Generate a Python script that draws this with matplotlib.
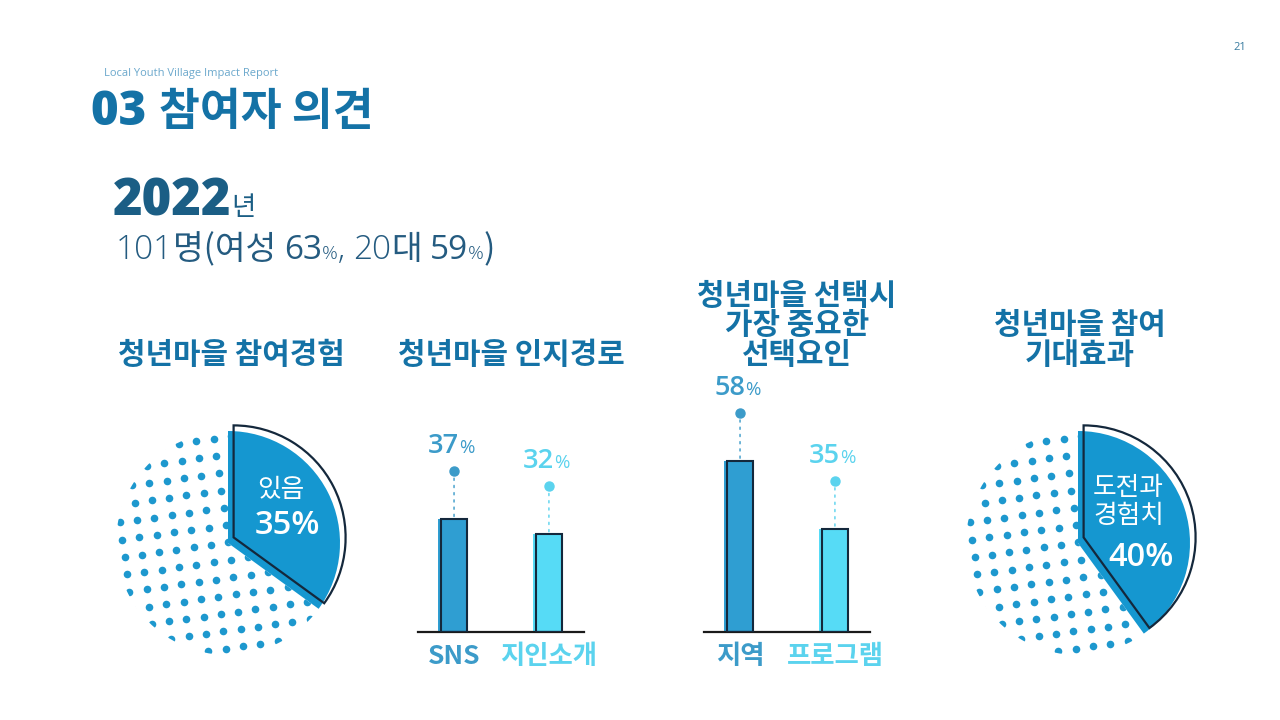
import numpy as np
import matplotlib
matplotlib.use("Agg")
import matplotlib.pyplot as plt
from matplotlib.transforms import offset_copy

plt.rcParams['font.family'] = ['Noto Sans CJK KR', 'DejaVu Sans']

# data
pie1_label = "있음"
pie1_values = [35, 65]
pie2_label = "도전과\n경험치"
pie2_values = [40, 60]

aware_cats = ["SNS", "지인소개"]
aware_vals = [37, 32]
factor_cats = ["지역", "프로그램"]
factor_vals = [58, 35]

titles = ["청년마을 참여경험", "청년마을 인지경로", "청년마을 선택시\n가장 중요한\n선택요인", "청년마을 참여\n기대효과"]

title_blue = '#1472A6'
year_blue = '#1B5E85'
pie_fill = '#1597D0'
dot_col = '#1D98CE'
outline = '#14283C'
bar_cols = ['#2F9ED2', '#56DBF6']
lab_cols = ['#3C9BC9', '#5BD3EE']
num_font = ['Open Sans', 'Noto Sans CJK KR', 'DejaVu Sans']
kr = ['Noto Sans CJK KR', 'DejaVu Sans']

W, H = 1280, 720
fig = plt.figure(figsize=(12.8, 7.2), dpi=100)
fig.patch.set_facecolor('white')


def fx(px):
    return px / W


def fy(py):
    return 1 - py / H


def runs(x, y, parts):
    # draw text pieces left to right on one baseline
    r = fig.canvas.get_renderer()
    x = fx(x)
    for s, size, weight, color, fam in parts:
        t = fig.text(x, fy(y), s, fontsize=size, fontweight=weight, color=color, va='baseline', ha='left',
                     family=fam)
        bb = t.get_window_extent(r)
        x += bb.width / W


# header
fig.text(fx(104), fy(76), "Local Youth Village Impact Report", fontsize=8, color='#6BA8CC',
         va='baseline', family=['Open Sans', 'DejaVu Sans'])
fig.text(fx(1240), fy(50), "21", fontsize=8, color='#3A7CA0', va='baseline', ha='center',
         family=['Open Sans', 'DejaVu Sans'])
runs(91, 125, [("03 ", 34, 800, title_blue, num_font), ("참여자 의견", 32, 'black', title_blue, kr)])

runs(113, 215, [("2022", 36.5, 800, year_blue, num_font), ("년", 19, 'normal', year_blue, kr)])
sub = '#245B80'
runs(116, 259, [("101", 24, 'light', sub, num_font), ("명(여성 ", 24, 'light', sub, kr),
                ("63", 24, 'normal', sub, num_font), ("%", 14, 'light', sub, num_font),
                (", ", 24, 'light', sub, num_font), ("20", 24, 'light', sub, num_font),
                ("대 ", 24, 'light', sub, kr), ("59", 24, 'normal', sub, num_font),
                ("%", 14, 'light', sub, num_font), (")", 24, 'light', sub, kr)])

# section titles
title_x = [231, 511, 797, 1080]
for tx, tt in zip(title_x, titles):
    fig.text(fx(tx), fy(364), tt, fontsize=21.5, fontweight='bold', color=title_blue,
             ha='center', va='baseline', linespacing=0.98)


def dotted_pie(cx, cy, r, values, label, label_xy, pct_xy):
    half = 135
    ax = fig.add_axes([fx(cx - half), fy(cy + half), 2 * half / W, 2 * half / H])
    wedges, _ = ax.pie(values, startangle=90, counterclock=False, colors=[pie_fill, 'none'],
                       wedgeprops=dict(linewidth=0))
    # dot texture on the remaining part
    step = 0.156
    g = np.arange(-1.4, 1.4 + step, step)
    gx, gy = np.meshgrid(g, g)
    a = np.deg2rad(8)
    px = gx * np.cos(a) - gy * np.sin(a)
    py = gx * np.sin(a) + gy * np.cos(a)
    sc = ax.scatter(px.ravel(), py.ravel(), s=30, color=dot_col, linewidths=0, zorder=1)
    sc.set_clip_path(wedges[1])
    # offset outline of the highlighted slice
    ow, _ = ax.pie(values, startangle=90, counterclock=False, colors=['none', 'none'],
                   center=(0.05, 0.05), wedgeprops=dict(linewidth=1.6))
    ow[0].set_edgecolor(outline)
    ow[0].set_zorder(3)
    ow[1].set_edgecolor('none')
    lim = half / r
    ax.set_xlim(-lim, lim)
    ax.set_ylim(-lim, lim)
    ax.set_aspect('equal')
    ax.axis('off')
    ax.text(*label_xy, label, color='white', fontsize=18.5, ha='center', va='center', linespacing=1.1, zorder=4)
    ax.text(*pct_xy, f"{values[0]}%", color='white', fontsize=23.5, fontweight=600, family=num_font,
            ha='center', va='center', zorder=4)


dotted_pie(228, 543, 112, pie1_values, pie1_label, (0.47, 0.47), (0.53, 0.16))
dotted_pie(1078, 543, 112, pie2_values, pie2_label, (0.45, 0.37), (0.56, -0.13))


def bar_chart(left, right, top, base, ymax, cats, vals):
    ax = fig.add_axes([fx(left), fy(base), (right - left) / W, (base - top) / H])
    x = np.arange(len(vals))
    ax.bar(x - 0.02, vals, width=0.30, color=bar_cols, linewidth=0, zorder=2)
    ax.bar(x, vals, width=0.27, facecolor='none', edgecolor=outline, linewidth=1.5, zorder=3)
    for i, v in enumerate(vals):
        up = offset_copy(ax.transData, fig=fig, x=0, y=48, units='dots')
        ax.annotate('', xy=(i, v), xytext=(0, 48), textcoords='offset pixels',
                    arrowprops=dict(arrowstyle='-', linestyle=(0, (1, 3)), color=lab_cols[i], lw=1.3,
                                    alpha=0.8, shrinkA=0, shrinkB=2))
        ax.plot([i], [v], 'o', ms=6.5, color=lab_cols[i], transform=up, clip_on=False)
        ax.annotate(f"{v}", xy=(i, v), xytext=(5, 73), textcoords='offset pixels', ha='right', va='center',
                    fontsize=19.5, fontweight=600, color=lab_cols[i], family=num_font)
        ax.annotate("%", xy=(i, v), xytext=(5, 71), textcoords='offset pixels', ha='left', va='center',
                    fontsize=13.5, color=lab_cols[i], family=num_font)
    ax.set_xlim(-0.38, 1.37)
    ax.set_ylim(0, ymax)
    ax.set_xticks(x, cats)
    for lbl, c in zip(ax.get_xticklabels(), lab_cols):
        lbl.set_color(c)
        lbl.set_fontsize(19)
        lbl.set_fontweight('bold')
    ax.tick_params(axis='x', length=0, pad=8)
    ax.set_yticks([])
    for s in ['top', 'left', 'right']:
        ax.spines[s].set_visible(False)
    ax.spines['bottom'].set_color('#1A1A1A')
    ax.spines['bottom'].set_linewidth(1.6)
    ax.patch.set_alpha(0)


bar_chart(418, 584, 380, 632, 252 / 3.05, aware_cats, aware_vals)
bar_chart(704, 870, 380, 632, 252 / 2.95, factor_cats, factor_vals)

fig.savefig("out.png", dpi=100, facecolor='white')
